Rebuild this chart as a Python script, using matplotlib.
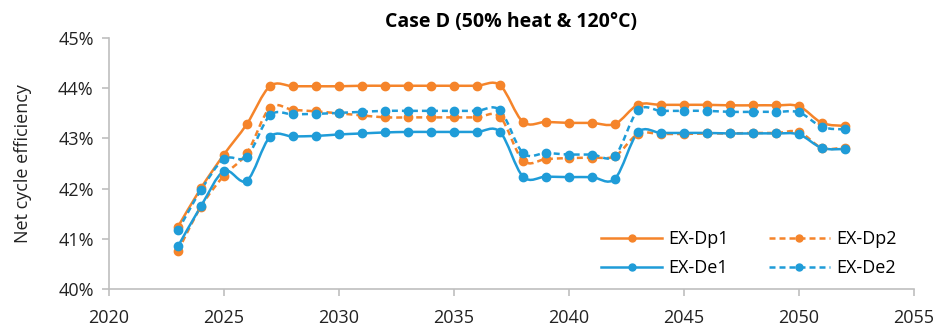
import matplotlib
matplotlib.use("Agg")
import matplotlib.pyplot as plt
from matplotlib.path import Path
from matplotlib.patches import PathPatch
from matplotlib.lines import Line2D
import numpy as np

years = list(range(2023, 2053))

ex_dp1 = [41.24, 42.01, 42.68, 43.29, 44.04, 44.04, 44.04, 44.04, 44.05, 44.05,
          44.05, 44.05, 44.05, 44.05, 44.06, 43.33, 43.33, 43.31, 43.31, 43.29,
          43.67, 43.67, 43.67, 43.67, 43.66, 43.66, 43.66, 43.64, 43.31, 43.25]
ex_dp2 = [40.76, 41.64, 42.26, 42.71, 43.61, 43.57, 43.54, 43.50, 43.46, 43.42,
          43.42, 43.42, 43.42, 43.42, 43.43, 42.56, 42.59, 42.61, 42.62, 42.65,
          43.09, 43.09, 43.09, 43.10, 43.10, 43.11, 43.11, 43.13, 42.81, 42.82]
ex_de1 = [40.85, 41.65, 42.35, 42.16, 43.03, 43.04, 43.05, 43.08, 43.10, 43.12,
          43.13, 43.13, 43.13, 43.13, 43.13, 42.24, 42.24, 42.23, 42.23, 42.20,
          43.12, 43.11, 43.11, 43.11, 43.10, 43.10, 43.10, 43.08, 42.81, 42.79]
ex_de2 = [41.17, 41.97, 42.59, 42.64, 43.46, 43.48, 43.49, 43.51, 43.53, 43.55,
          43.55, 43.55, 43.55, 43.55, 43.56, 42.71, 42.71, 42.68, 42.68, 42.66,
          43.56, 43.55, 43.55, 43.55, 43.53, 43.53, 43.53, 43.52, 43.23, 43.18]

orange = "#F5842A"
blue = "#1F9CD8"
dash = (0, (2.4, 1.6))
series = [
    ("EX-Dp1", ex_dp1, orange, "-"),
    ("EX-Dp2", ex_dp2, orange, dash),
    ("EX-De1", ex_de1, blue, "-"),
    ("EX-De2", ex_de2, blue, dash),
]

plt.rcParams["font.family"] = ["Open Sans", "DejaVu Sans"]


def smooth_path(x, y):
    # excel style smoothed line: cubic bezier through every point
    pts = np.column_stack([x, np.array(y) / 100.0])
    n = len(pts)
    verts = [pts[0]]
    codes = [Path.MOVETO]
    for i in range(n - 1):
        p0 = pts[max(i - 1, 0)]
        p1 = pts[i]
        p2 = pts[i + 1]
        p3 = pts[min(i + 2, n - 1)]
        c1 = p1 + (p2 - p0) / 6.0
        c2 = p2 - (p3 - p1) / 6.0
        verts += [c1, c2, p2]
        codes += [Path.CURVE4] * 3
    return Path(verts, codes)


fig = plt.figure(figsize=(9.39, 3.27), dpi=100)
ax = fig.add_axes([0.116, 0.116, 0.8574, 0.7676])

handles = {}
for name, vals, col, ls in series:
    patch = PathPatch(smooth_path(years, vals), fill=False, edgecolor=col,
                      linewidth=1.8, linestyle=ls, zorder=2)
    ax.add_patch(patch)
    ax.plot(years, np.array(vals) / 100.0, linestyle="none", marker="o",
            markersize=6, color=col, zorder=3)
    handles[name] = Line2D([], [], color=col, linestyle=ls, linewidth=1.8,
                           marker="o", markersize=5, label=name)

ax.set_xlim(2020, 2055)
ax.set_ylim(0.40, 0.45)
ax.set_xticks(range(2020, 2056, 5))
ax.set_yticks(np.arange(0.40, 0.4501, 0.01))
ax.set_yticklabels(["%d%%" % v for v in range(40, 46)])

for s in ["top", "right"]:
    ax.spines[s].set_visible(False)
for s in ["left", "bottom"]:
    ax.spines[s].set_color("#BFBFBF")
    ax.spines[s].set_linewidth(1.2)
ax.tick_params(axis="both", colors="#BFBFBF", length=5, width=1.2,
               labelcolor="#222222", labelsize=13)
ax.tick_params(axis="y", pad=6)
ax.tick_params(axis="x", pad=9)

ax.set_ylabel("Net cycle efficiency", fontsize=13, color="#222222")
ax.yaxis.set_label_coords(-0.095, 0.5)
ax.set_title("Case D (50% heat & 120°C)", fontsize=14, fontweight="bold", pad=8)

order = ["EX-Dp1", "EX-De1", "EX-Dp2", "EX-De2"]
ax.legend(handles=[handles[k] for k in order], ncol=2, frameon=False,
          fontsize=13, loc="upper left", bbox_to_anchor=(0.611, 0.235),
          borderpad=0, borderaxespad=0, handlelength=3.4, handletextpad=0.35,
          columnspacing=2.2, labelspacing=0.6)

fig.savefig("out.png", dpi=100)
